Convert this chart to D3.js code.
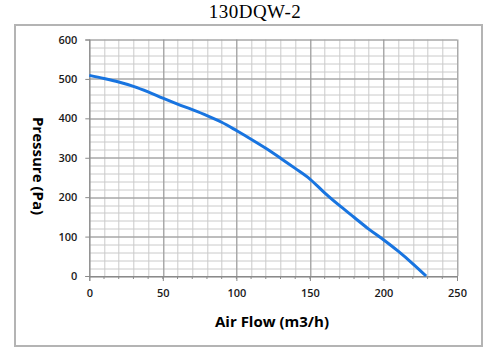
<!DOCTYPE html>
<html>
<head>
<meta charset="utf-8">
<script src="https://cdn.jsdelivr.net/npm/d3@7"></script>
<style>
  body { margin: 0; background: #fff; }
  svg { display: block; }
</style>
</head>
<body>
<div id="chart"></div>
<script>
  // data
  var flow = [0, 10, 20, 30, 40, 50, 60, 70, 80, 90, 100, 110, 120, 130, 140, 150, 160, 170, 180, 190, 200, 210, 220, 229];
  var pressure = [509, 501, 492, 481, 467, 451, 436, 422, 407, 390, 369, 347, 324, 299, 273, 246, 211, 179, 149, 119, 92, 63, 31, 0];
  var xTicks = [0, 50, 100, 150, 200, 250];
  var yTicks = [0, 100, 200, 300, 400, 500, 600];
  var title = "130DQW-2";
  var xLabel = "Air Flow (m3/h)";
  var yLabel = "Pressure (Pa)";

  var W = 500, H = 362;
  var margin = {top: 39.5, right: 43, bottom: 86, left: 89.3};
  var width = W - margin.left - margin.right,
      height = H - margin.top - margin.bottom;

  var svg = d3.select("#chart").append("svg")
    .attr("width", W)
    .attr("height", H);

  // outer frame
  svg.append("rect")
    .attr("x", 15).attr("y", 25)
    .attr("width", 467).attr("height", 321)
    .attr("fill", "none")
    .attr("stroke", "#b4b4b4")
    .attr("stroke-width", 2);

  svg.append("text")
    .attr("x", 255).attr("y", 18)
    .attr("text-anchor", "middle")
    .style("font-family", "'Liberation Serif', 'DejaVu Serif', serif")
    .style("font-size", "19px")
    .style("letter-spacing", "0.5px")
    .text(title);

  var g = svg.append("g")
    .attr("transform", "translate(" + margin.left + "," + margin.top + ")");

  var x = d3.scaleLinear().domain([0, 250]).range([0, width]);
  var y = d3.scaleLinear().domain([0, 600]).range([height, 0]);

  // minor grid
  g.append("g").selectAll("line.vminor")
    .data(d3.range(0, 251, 10))
    .enter().append("line")
      .attr("x1", function(d) { return Math.round(x(d)) + 0.5; })
      .attr("x2", function(d) { return Math.round(x(d)) + 0.5; })
      .attr("y1", 0).attr("y2", height)
      .attr("stroke", "#cacaca");
  g.append("g").selectAll("line.hminor")
    .data(d3.range(0, 601, 20))
    .enter().append("line")
      .attr("y1", function(d) { return Math.round(y(d)) + 0.5; })
      .attr("y2", function(d) { return Math.round(y(d)) + 0.5; })
      .attr("x1", 0).attr("x2", width)
      .attr("stroke", "#cacaca");

  // major grid
  g.append("g").selectAll("line")
    .data(xTicks)
    .enter().append("line")
      .attr("x1", function(d) { return Math.round(x(d)) + 0.5; })
      .attr("x2", function(d) { return Math.round(x(d)) + 0.5; })
      .attr("y1", 0).attr("y2", height)
      .attr("stroke", "#969696");
  g.append("g").selectAll("line")
    .data(yTicks)
    .enter().append("line")
      .attr("y1", function(d) { return Math.round(y(d)) + 0.5; })
      .attr("y2", function(d) { return Math.round(y(d)) + 0.5; })
      .attr("x1", 0).attr("x2", width)
      .attr("stroke", "#969696");

  // axes
  var xAxis = d3.axisBottom(x).tickValues(xTicks).tickSize(5).tickPadding(8);
  var yAxis = d3.axisLeft(y).tickValues(yTicks).tickSize(4).tickPadding(8);

  var gx = g.append("g")
    .attr("transform", "translate(0," + height + ")")
    .call(xAxis);
  var gy = g.append("g").call(yAxis);

  [gx, gy].forEach(function(a) {
    a.select(".domain").attr("stroke", "#8a8a8a");
    a.selectAll(".tick line").attr("stroke", "#8a8a8a");
    a.selectAll("text")
      .attr("fill", "#1a1a1a")
      .style("font-family", "'Open Sans', 'Liberation Sans', sans-serif")
      .style("font-size", "11px")
      .style("font-weight", "600");
  });

  // small ticks every 10 below x axis
  gx.selectAll("line.minor")
    .data(d3.range(10, 250, 10))
    .enter().append("line")
      .attr("x1", function(d) { return x(d); })
      .attr("x2", function(d) { return x(d); })
      .attr("y1", 0).attr("y2", 3)
      .attr("stroke", "#8a8a8a");

  // axis titles
  svg.append("text")
    .attr("x", 272).attr("y", 327)
    .attr("text-anchor", "middle")
    .style("font-family", "'Open Sans', 'Liberation Sans', sans-serif")
    .style("font-size", "15px")
    .style("font-weight", "bold")
    .text(xLabel);

  svg.append("text")
    .attr("transform", "translate(33,166) rotate(90)")
    .attr("text-anchor", "middle")
    .style("font-family", "'Open Sans', 'Liberation Sans', sans-serif")
    .style("font-size", "15px")
    .style("font-weight", "bold")
    .text(yLabel);

  // curve
  var pts = flow.map(function(d, i) { return [d, pressure[i]]; });
  var line = d3.line()
    .x(function(d) { return x(d[0]); })
    .y(function(d) { return y(d[1]); })
    .curve(d3.curveMonotoneX);

  g.append("path")
    .datum(pts)
    .attr("d", line)
    .attr("fill", "none")
    .attr("stroke", "#1874e0")
    .attr("stroke-width", 3);
</script>
</body>
</html>
